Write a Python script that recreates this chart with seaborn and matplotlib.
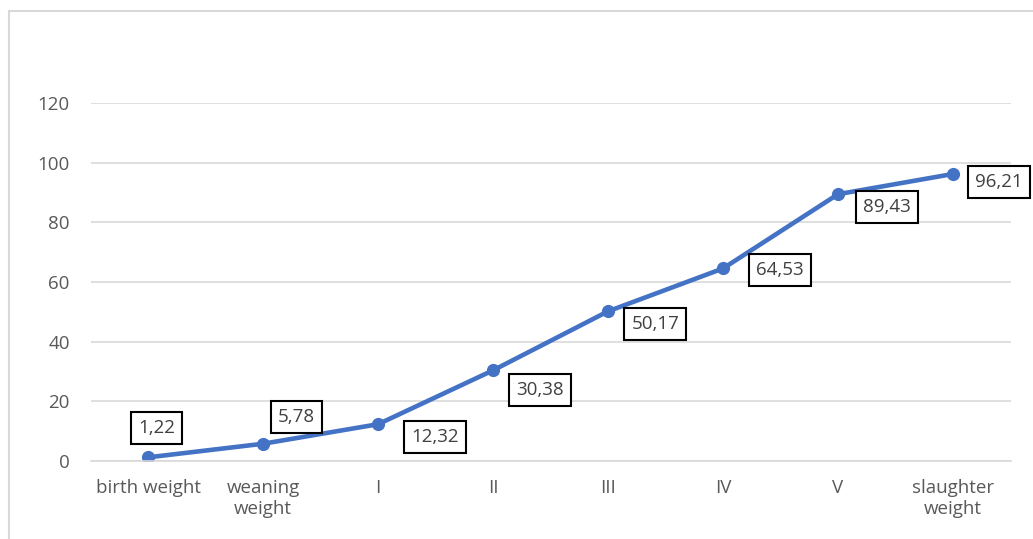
import matplotlib
matplotlib.use("Agg")
import matplotlib.pyplot as plt
import matplotlib.patches as mpatches
import seaborn as sns
import pandas as pd

# Live weight across growth stages
stages = ["birth weight", "weaning\nweight", "I", "II", "III", "IV", "V", "slaughter\nweight"]
weights = [1.22, 5.78, 12.32, 30.38, 50.17, 64.53, 89.43, 96.21]
y_ticks = [0, 20, 40, 60, 80, 100, 120]

# label offsets (points) from each marker
label_dx = [6, 24, 41, 34, 34, 41, 35, 33]
label_dy = [21, 19, -9, -14, -9, -1, -9, -6]

df = pd.DataFrame({"stage": stages, "weight": weights})

sns.set_theme(style="white")
plt.rcParams["font.family"] = ["Open Sans", "DejaVu Sans"]

W, H = 1033, 539
fig = plt.figure(figsize=(W / 100, H / 100), dpi=100)
ax = fig.add_axes([90.5 / W, 78 / H, 920 / W, 358 / H])

line_color = "#4472C4"
sns.lineplot(data=df, x="stage", y="weight", ax=ax, color=line_color,
             linewidth=3.3, marker="o", markersize=9.5, markeredgewidth=0,
             sort=False)

ax.set_xlim(-0.5, len(stages) - 0.5)
ax.set_ylim(0, 120)
ax.set_yticks(y_ticks)
ax.set_yticklabels([str(t) for t in y_ticks])
ax.yaxis.grid(True, color="#D9D9D9", linewidth=1.2)
ax.set_axisbelow(True)
for side in ["top", "right", "left"]:
    ax.spines[side].set_visible(False)
ax.spines["bottom"].set_color("#D9D9D9")
ax.spines["bottom"].set_linewidth(1.2)
ax.tick_params(axis="both", length=0, labelsize=13.5, labelcolor="#595959")
ax.tick_params(axis="y", pad=15)
ax.tick_params(axis="x", pad=13)
ax.set_xlabel("")
ax.set_ylabel("")

for i, (s, v) in enumerate(zip(stages, weights)):
    ax.annotate(f"{v:.2f}".replace(".", ","), xy=(i, v),
                xytext=(label_dx[i], label_dy[i]), textcoords="offset points",
                ha="center", va="center", fontsize=13.5, color="#404040",
                bbox=dict(boxstyle="square,pad=0.38", fc="white", ec="black", lw=1.5),
                annotation_clip=False, zorder=5)

# chart area frame
fig.patches.append(mpatches.Rectangle((9 / W, -0.05), 1.1, 1.05 - 11 / H,
                                      transform=fig.transFigure, fill=False,
                                      ec="#D9D9D9", lw=1.5, zorder=0))

fig.savefig("out.png", dpi=100, facecolor="white")
